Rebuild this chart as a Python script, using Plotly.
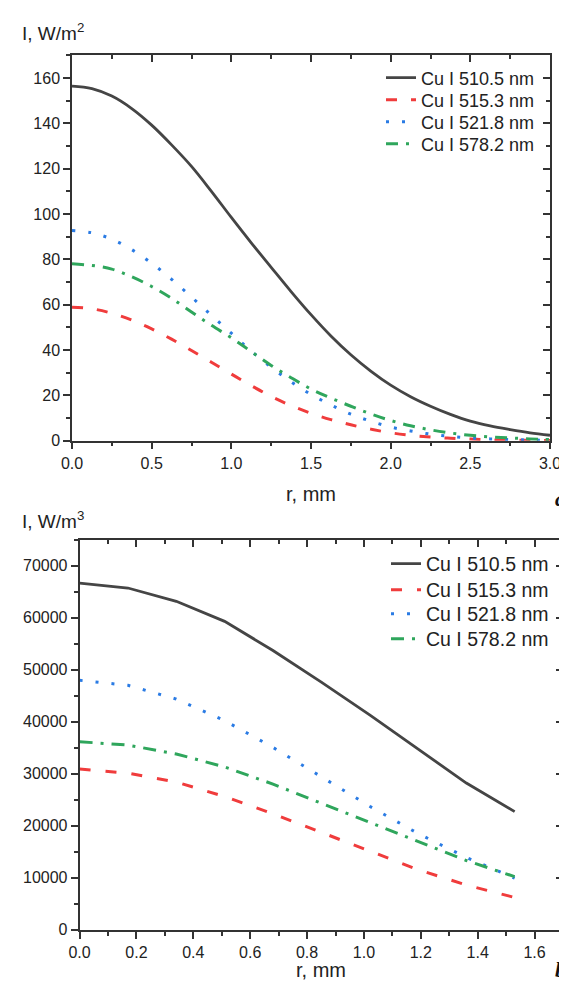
import plotly.graph_objects as go

# ---------------- data: panel a ----------------
r_a = [0.0, 0.125, 0.25, 0.375, 0.5, 0.625, 0.75, 0.875, 1.0, 1.125, 1.25, 1.375, 1.5,
       1.625, 1.75, 1.875, 2.0, 2.125, 2.25, 2.375, 2.5, 2.625, 2.75, 2.875, 3.0]
cu5105_a = [156.4, 155.3, 152.0, 146.5, 139.2, 130.5, 121.0, 110.0, 98.5, 87.3, 76.5, 65.8, 55.6,
            46.2, 37.9, 30.7, 24.5, 19.4, 15.2, 11.6, 8.6, 6.5, 4.9, 3.5, 2.4]
cu5153_a = [58.9, 58.2, 56.2, 53.2, 49.3, 44.8, 39.8, 34.6, 29.4, 24.3, 19.5, 15.5, 12.1,
            9.3, 7.0, 5.1, 3.5, 2.4, 1.6, 1.1, 0.7, 0.4, 0.25, 0.15, 0.1]
cu5218_a = [92.7, 91.7, 88.9, 84.3, 78.3, 71.2, 63.4, 55.3, 47.4, 39.5, 32.4, 26.0, 20.4,
            15.8, 11.7, 8.6, 6.0, 4.3, 2.9, 1.9, 1.2, 0.8, 0.5, 0.3, 0.2]
cu5782_a = [78.0, 77.3, 75.7, 72.3, 68.0, 62.8, 56.8, 50.9, 45.4, 39.3, 33.2, 27.8, 22.8,
            18.8, 15.2, 11.8, 8.9, 6.6, 4.8, 3.4, 2.4, 1.7, 1.2, 0.8, 0.5]

# ---------------- data: panel b ----------------
r_b = [0.0, 0.17, 0.34, 0.51, 0.68, 0.85, 1.02, 1.19, 1.36, 1.53]
cu5105_b = [66670, 65710, 63150, 59300, 53700, 47600, 41300, 34700, 28200, 22700]
cu5153_b = [30900, 30100, 28400, 25600, 22300, 18700, 15000, 11550, 8600, 6200]
cu5218_b = [47960, 47000, 44350, 40200, 35070, 29400, 23750, 18500, 13900, 9900]
cu5782_b = [36150, 35500, 33800, 31300, 28000, 24350, 20600, 16900, 13300, 10200]

names = ["Cu I 510.5 nm", "Cu I 515.3 nm", "Cu I 521.8 nm", "Cu I 578.2 nm"]
colors = ["#454545", "#f03c3c", "#2a7be4", "#2fa65c"]
dashes_a = ["solid", "11px,14px", "3px,13px", "12px,8px,3px,8px"]
dashes_b = ["solid", "11px,15px", "3px,13px", "13px,8px,3px,8px"]
widths = [2.8, 3.0, 3.0, 3.0]

W, H = 567, 983
FONT = "Liberation Sans, Arial, sans-serif"

def px_x(p):
    return p / W

def px_y(p):
    return 1 - p / H

fig = go.Figure()

series_a = [cu5105_a, cu5153_a, cu5218_a, cu5782_a]
series_b = [cu5105_b, cu5153_b, cu5218_b, cu5782_b]
leg_a = ["legend", "legend3", "legend4", "legend5"]
leg_b = ["legend2", "legend6", "legend7", "legend8"]

for i in range(4):
    fig.add_trace(go.Scatter(
        x=r_a, y=series_a[i], name=names[i], mode="lines",
        line=dict(color=colors[i], width=widths[i], dash=dashes_a[i], shape="spline"),
        xaxis="x", yaxis="y", legend=leg_a[i]))
for i in range(4):
    fig.add_trace(go.Scatter(
        x=r_b, y=series_b[i], name=names[i], mode="lines",
        line=dict(color=colors[i], width=widths[i], dash=dashes_b[i]),
        xaxis="x2", yaxis="y2", legend=leg_b[i]))

# helper traces so the mirrored (inward-tick) axes are drawn
fig.add_trace(go.Scatter(x=[0], y=[-1000], xaxis="x3", yaxis="y3", showlegend=False,
                         hoverinfo="skip", mode="lines"))
fig.add_trace(go.Scatter(x=[0], y=[-1000000], xaxis="x4", yaxis="y4", showlegend=False,
                         hoverinfo="skip", mode="lines"))

dom_xa = [px_x(64), px_x(542)]
dom_ya = [px_y(432.7), px_y(47.3)]
dom_xb = [px_x(71.6), px_x(555)]
dom_yb = [px_y(921.7), px_y(531.7)]

tickfont = dict(family=FONT, size=16, color="#222222")
LC = "#333333"

def main_axis(rng, dtick, mdtick, dom, anchor, fmt, lw=1.5):
    return dict(range=rng, domain=dom, anchor=anchor, dtick=dtick, tick0=0,
                tickformat=fmt, ticks="outside", ticklen=7, tickwidth=lw, tickcolor=LC,
                minor=dict(dtick=mdtick, tick0=0, ticks="outside", ticklen=4, tickwidth=lw, tickcolor=LC),
                showline=True, linecolor=LC, linewidth=lw, showgrid=False, zeroline=False,
                tickfont=tickfont, fixedrange=True, automargin=False)

def mirror_axis(rng, dtick, mdtick, side, overlay, anchor, lw=1.5):
    return dict(range=rng, overlaying=overlay, side=side, anchor=anchor, dtick=dtick, tick0=0,
                ticks="inside", ticklen=7, tickwidth=lw, tickcolor=LC,
                minor=dict(dtick=mdtick, tick0=0, ticks="inside", ticklen=4, tickwidth=lw, tickcolor=LC),
                showline=True, linecolor=LC, linewidth=lw, showgrid=False, zeroline=False,
                showticklabels=False, fixedrange=True, automargin=False)

layout = dict(
    width=W, height=H,
    margin=dict(l=0, r=0, t=0, b=0, pad=0, autoexpand=False),
    paper_bgcolor="white", plot_bgcolor="rgba(0,0,0,0)",
    font=dict(family=FONT, color="#222222"),
    xaxis=main_axis([0, 3.0], 0.5, 0.25, dom_xa, "y", ".1f"),
    yaxis=main_axis([0, 170], 20, 10, dom_ya, "x", "d"),
    xaxis2=main_axis([0, 1.7], 0.2, 0.1, dom_xb, "y2", ".1f", lw=1.8),
    yaxis2=main_axis([0, 75000], 10000, 5000, dom_yb, "x2", "d", lw=1.8),
    xaxis3=mirror_axis([0, 3.0], 0.5, 0.25, "top", "x", "y3"),
    yaxis3=mirror_axis([0, 170], 20, 10, "right", "y", "x3"),
    xaxis4=mirror_axis([0, 1.7], 0.2, 0.1, "top", "x2", "y4", lw=1.8),
    yaxis4=mirror_axis([0, 75000], 10000, 5000, "right", "y2", "x4", lw=1.8),
    showlegend=True,
)

rows_a = [70, 92, 114, 136]
rows_b = [556, 582, 606, 631]
for i in range(4):
    layout[leg_a[i]] = dict(x=px_x(373), y=px_y(rows_a[i]), xanchor="left", yanchor="middle",
                            bgcolor="rgba(0,0,0,0)", borderwidth=0,
                            font=dict(family=FONT, size=18, color="#222222"))
    layout[leg_b[i]] = dict(x=px_x(378), y=px_y(rows_b[i]), xanchor="left", yanchor="middle",
                            bgcolor="rgba(0,0,0,0)", borderwidth=0,
                            font=dict(family=FONT, size=19.5, color="#222222"))

fig.update_layout(**layout)

ann_font = dict(family=FONT, size=19, color="#222222")
fig.add_annotation(text="I, W/m<sup>2</sup>", x=px_x(12), y=px_y(24), xref="paper", yref="paper",
                   xanchor="left", yanchor="middle", showarrow=False, font=ann_font)
fig.add_annotation(text="I, W/m<sup>3</sup>", x=px_x(12), y=px_y(512), xref="paper", yref="paper",
                   xanchor="left", yanchor="middle", showarrow=False, font=ann_font)
fig.add_annotation(text="r, mm", x=(dom_xa[0] + dom_xa[1]) / 2, y=px_y(486), xref="paper", yref="paper",
                   xanchor="center", yanchor="middle", showarrow=False, font=dict(family=FONT, size=20, color="#222222"))
fig.add_annotation(text="r, mm", x=(dom_xb[0] + dom_xb[1]) / 2, y=px_y(962), xref="paper", yref="paper",
                   xanchor="center", yanchor="middle", showarrow=False, font=dict(family=FONT, size=20, color="#222222"))
fig.add_annotation(text="<b><i>a</i></b>", x=px_x(545), y=px_y(490), xref="paper", yref="paper",
                   xanchor="left", yanchor="middle", showarrow=False,
                   font=dict(family="Liberation Serif, Times New Roman, serif", size=22, color="#111111"))
fig.add_annotation(text="<b><i>b</i></b>", x=px_x(545), y=px_y(961), xref="paper", yref="paper",
                   xanchor="left", yanchor="middle", showarrow=False,
                   font=dict(family="Liberation Serif, Times New Roman, serif", size=22, color="#111111"))

fig.write_html("out.html")
